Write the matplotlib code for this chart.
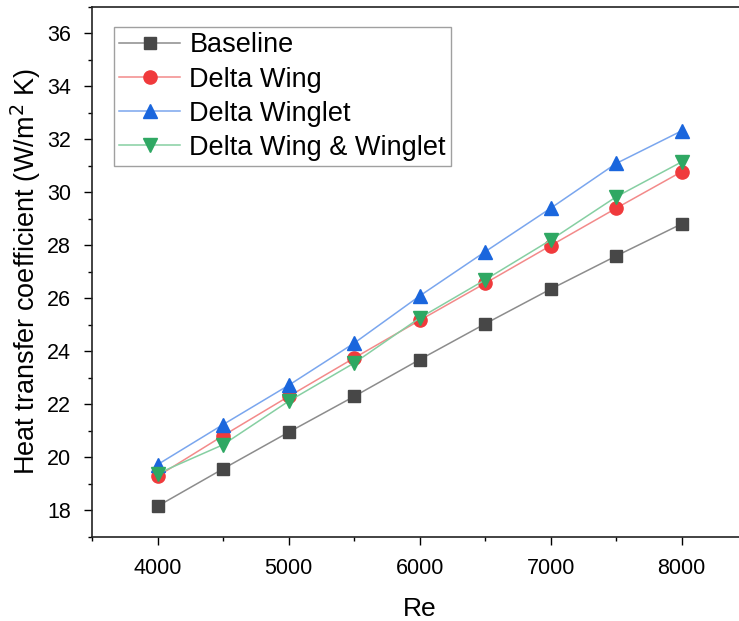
import numpy as np
import matplotlib.pyplot as plt
from matplotlib.ticker import MultipleLocator

plt.rcParams["font.family"] = ["Liberation Sans", "DejaVu Sans"]

re_vals = [4000, 4500, 5000, 5500, 6000, 6500, 7000, 7500, 8000]
baseline = [18.16, 19.57, 20.95, 22.30, 23.69, 25.04, 26.35, 27.60, 28.81]
delta_wing = [19.29, 20.82, 22.30, 23.75, 25.17, 26.57, 27.99, 29.40, 30.78]
delta_winglet = [19.73, 21.24, 22.72, 24.31, 26.09, 27.76, 29.40, 31.09, 32.32]
wing_winglet = [19.39, 20.48, 22.12, 23.56, 25.26, 26.70, 28.20, 29.83, 31.15]

labels = ["Baseline", "Delta Wing", "Delta Winglet", "Delta Wing & Winglet"]
series = [baseline, delta_wing, delta_winglet, wing_winglet]
marker_colors = ["#474747", "#f03a3c", "#1a66dd", "#2fa863"]
line_colors = ["#8c8c8c", "#f38a8a", "#7aa6ee", "#86cfa2"]
markers = ["s", "o", "^", "v"]
msizes = [8.5, 9.5, 10.5, 10.5]

fig = plt.figure(figsize=(7.39, 6.21), dpi=100)
ax = fig.add_axes([0.1245, 0.1353, 0.8865, 0.8537])

for y, lab, mc, lc, m, ms in zip(series, labels, marker_colors, line_colors, markers, msizes):
    ax.plot(re_vals, y, color=lc, lw=1.1, marker=m, ms=ms,
            markerfacecolor=mc, markeredgecolor=mc, label=lab)

ax.set_xlim(3500, 8500)
ax.set_ylim(17, 37)
ax.xaxis.set_major_locator(MultipleLocator(1000))
ax.xaxis.set_minor_locator(MultipleLocator(500))
ax.yaxis.set_major_locator(MultipleLocator(2))
ax.yaxis.set_minor_locator(MultipleLocator(1))

ax.tick_params(which="major", direction="out", length=6, width=1, labelsize=15.5, pad=9)
ax.tick_params(which="minor", direction="out", length=3, width=1)
ax.tick_params(top=False, right=False)
for s in ax.spines.values():
    s.set_linewidth(1.2)
    s.set_color("#222222")

ax.set_xlabel("Re", fontsize=19, labelpad=13)
ax.set_ylabel("Heat transfer coefficient (W/m$^2$ K)", fontsize=19.5)
ax.yaxis.set_label_coords(-0.075, 0.5)

leg = ax.legend(loc="upper left", bbox_to_anchor=(0.0336, 0.962), fontsize=19.5,
                frameon=True, fancybox=False, edgecolor="#888888",
                handlelength=2.25, handletextpad=0.33, labelspacing=0.3,
                borderpad=0.2, borderaxespad=0)
leg.get_frame().set_linewidth(1.0)

fig.savefig("out.png", dpi=100)
